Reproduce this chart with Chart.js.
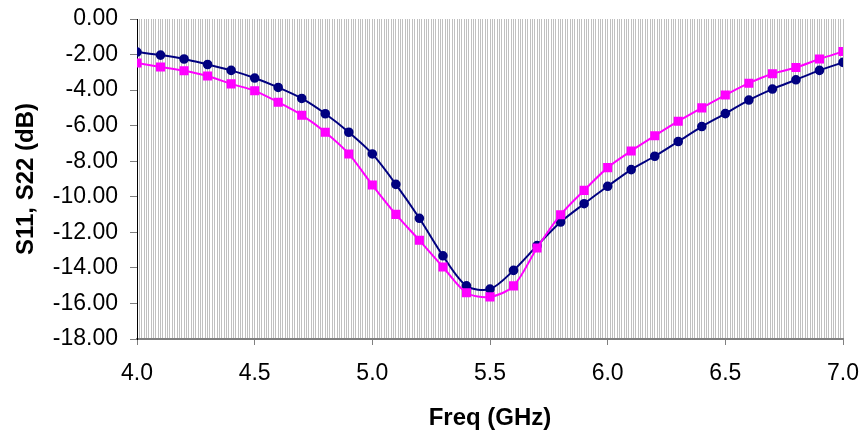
<!DOCTYPE html>
<html>
<head>
<meta charset="utf-8">
<script src="https://cdn.jsdelivr.net/npm/chart.js@4"></script>
<style>
  html, body { margin: 0; padding: 0; background: #fff; }
  #wrap { width: 864px; height: 434px; }
</style>
</head>
<body>
<div id="wrap"><canvas id="grafico" width="864" height="434"></canvas></div>
<script>
// frequências (GHz) e curvas
const freq = [4.0, 4.1, 4.2, 4.3, 4.4, 4.5, 4.6, 4.7, 4.8, 4.9,
              5.0, 5.1, 5.2, 5.3, 5.4, 5.5, 5.6, 5.7, 5.8, 5.9,
              6.0, 6.1, 6.2, 6.3, 6.4, 6.5, 6.6, 6.7, 6.8, 6.9, 7.0];

const s11 = [-1.86, -2.03, -2.25, -2.56, -2.89, -3.32, -3.85, -4.47, -5.33, -6.37,
             -7.59, -9.30, -11.21, -13.32, -15.01, -15.19, -14.14, -12.75, -11.42, -10.39,
             -9.41, -8.47, -7.72, -6.89, -6.05, -5.32, -4.56, -3.94, -3.42, -2.89, -2.44];

const s22 = [-2.48, -2.70, -2.91, -3.21, -3.65, -4.04, -4.68, -5.41, -6.37, -7.59,
             -9.34, -10.99, -12.45, -13.95, -15.40, -15.63, -15.01, -12.88, -11.01, -9.64,
             -8.36, -7.42, -6.57, -5.75, -5.00, -4.28, -3.61, -3.08, -2.73, -2.25, -1.83];

const xTicks = [4.0, 4.5, 5.0, 5.5, 6.0, 6.5, 7.0];
const yTicks = [0, -2, -4, -6, -8, -10, -12, -14, -16, -18];

const pontos = ys => freq.map((f, i) => ({ x: f, y: ys[i] }));
const ehRotulo = v => xTicks.some(t => Math.abs(t - v) < 1e-6);

const fonte = { family: "'Liberation Sans', Arial, sans-serif", size: 23 };
const fonteBold = { family: "'Liberation Sans', Arial, sans-serif", size: 24, weight: 'bold' };

new Chart(document.getElementById("grafico"), {
  type: 'line',
  data: {
    datasets: [
      {
        label: 'S22',
        data: pontos(s22),
        borderColor: '#ff00ff',
        backgroundColor: '#ff00ff',
        borderWidth: 2,
        pointStyle: 'rect',
        pointRadius: 5,
        pointHoverRadius: 5,
        tension: 0.3
      },
      {
        label: 'S11',
        data: pontos(s11),
        borderColor: '#000080',
        backgroundColor: '#000080',
        borderWidth: 2,
        pointStyle: 'circle',
        pointRadius: 3.8,
        pointHoverRadius: 3.8,
        tension: 0.3
      }
    ]
  },
  options: {
    responsive: false,
    animation: false,
    layout: { padding: { top: 19, right: 21, bottom: 0, left: 0 } },
    plugins: { legend: { display: false }, tooltip: { enabled: false } },
    scales: {
      x: {
        type: 'linear',
        min: 4, max: 7,
        afterFit: s => { s.height = 95; s.paddingLeft = 0; s.paddingRight = 0; },
        ticks: {
          stepSize: 0.01,
          autoSkip: false,
          maxRotation: 0,
          padding: 15,
          color: '#000',
          font: fonte,
          callback: v => ehRotulo(v) ? v.toFixed(1) : ''
        },
        grid: {
          drawOnChartArea: true,
          color: ctx => (ctx.tick && Math.abs(ctx.tick.value - 4) < 1e-6) ? 'rgba(0,0,0,0)' : '#c0c0c0',
          lineWidth: 1,
          tickLength: 6,
          tickColor: ctx => (ctx.tick && ehRotulo(ctx.tick.value)) ? '#808080' : 'rgba(0,0,0,0)'
        },
        border: { display: true, color: '#808080', width: 2 },
        title: {
          display: true,
          text: 'Freq (GHz)',
          color: '#000',
          font: fonteBold,
          padding: { top: 0, bottom: 1.6 }
        }
      },
      y: {
        min: -18, max: 0,
        afterFit: s => { s.width = 137; s.paddingTop = 0; s.paddingBottom = 0; },
        afterBuildTicks: s => { s.ticks = yTicks.map(v => ({ value: v })); },
        ticks: {
          padding: 12,
          color: '#000',
          font: fonte,
          callback: v => v.toFixed(2)
        },
        grid: {
          drawOnChartArea: false,
          drawTicks: true,
          tickLength: 7,
          tickColor: '#808080'
        },
        border: { display: true, color: '#000', width: 1 },
        title: {
          display: true,
          text: 'S11, S22 (dB)',
          color: '#000',
          font: fonteBold,
          padding: { top: 11.5, bottom: 0 }
        }
      }
    }
  }
});
</script>
</body>
</html>
